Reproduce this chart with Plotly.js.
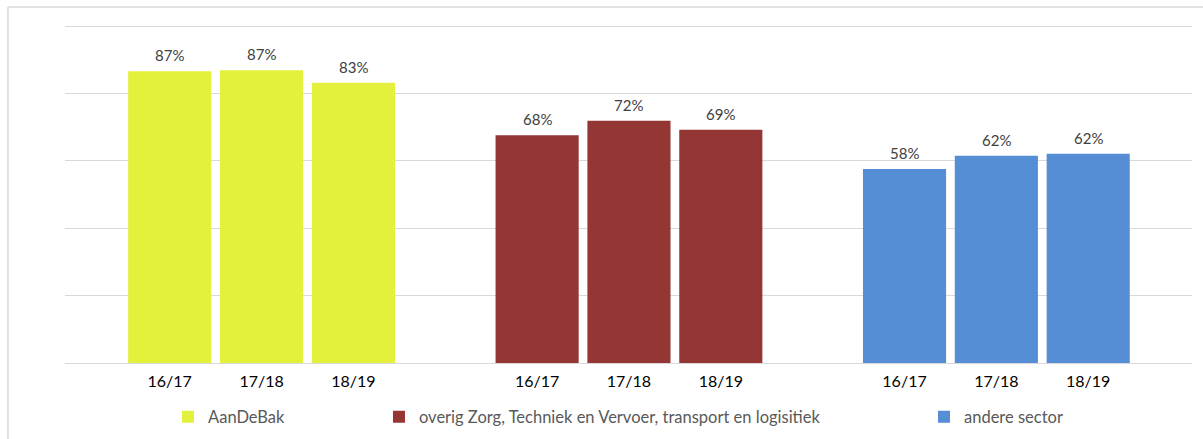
<!DOCTYPE html>
<html>
<head>
<meta charset="utf-8">
<script src="https://cdn.plot.ly/plotly-3.0.1.min.js"></script>
<style>
  html, body { margin: 0; padding: 0; background: #fff; }
  #chart { width: 1203px; height: 439px; }
</style>
</head>
<body>
<div id="chart"></div>
<script>
// ---- data ----
const periods = ["16/17", "17/18", "18/19"];
const seriesNames = [
  "AanDeBak",
  "overig Zorg, Techniek en Vervoer, transport en logisitiek",
  "andere sector"
];
const aanDeBak = [0.866, 0.869, 0.832];
const overigZorg = [0.676, 0.719, 0.692];
const andereSector = [0.576, 0.615, 0.621];
const seriesValues = [aanDeBak, overigZorg, andereSector];
const seriesColors = ["#E3F13C", "#943634", "#558ED5"];

// ---- build ----
const slotsPerGroup = periods.length + 1; // one empty slot between groups
const traces = [];
const annotations = [];
const tickvals = [];
const ticktext = [];
const legendIds = ["legend", "legend2", "legend3"];

seriesValues.forEach((vals, g) => {
  const xs = periods.map((p, i) => g * slotsPerGroup + i);
  xs.forEach((x, i) => { tickvals.push(x); ticktext.push(periods[i]); });
  traces.push({
    type: "bar",
    name: seriesNames[g],
    x: xs,
    y: vals,
    width: 0.905,
    marker: { color: seriesColors[g], line: { width: 0 } },
    legend: legendIds[g],
    hoverinfo: "none"
  });
  vals.forEach((v, i) => {
    annotations.push({
      x: xs[i], y: v, xref: "x", yref: "y",
      text: Math.round(v * 100) + "%",
      showarrow: false, yanchor: "bottom", yshift: 5,
      font: { family: "Lato, sans-serif", size: 15, color: "#404040" }
    });
  });
});

const legendFont = { family: "Lato, sans-serif", size: 16.5, color: "#595959" };
const legendBase = {
  orientation: "h", yanchor: "middle", xanchor: "left", y: -0.16,
  font: legendFont, bgcolor: "rgba(0,0,0,0)", borderwidth: 0, itemwidth: 30
};

const layout = {
  width: 1203, height: 439,
  margin: { l: 65, r: 11, t: 25, b: 76, pad: 0, autoexpand: false },
  paper_bgcolor: "#ffffff", plot_bgcolor: "#ffffff",
  barmode: "overlay",
  showlegend: true,
  xaxis: {
    type: "linear", range: [-1.14, 11.13],
    tickvals: tickvals, ticktext: ticktext,
    showgrid: false, zeroline: false, ticks: "",
    showline: true, linecolor: "#d9d9d9", linewidth: 1,
    ticklabelstandoff: 4,
    tickfont: { family: "Lato, sans-serif", size: 16, color: "#000000" },
    fixedrange: true
  },
  yaxis: {
    range: [0, 1.003], tickvals: [0.2, 0.4, 0.6, 0.8, 1.0], showticklabels: false,
    showgrid: true, gridcolor: "#d9d9d9", gridwidth: 1,
    zeroline: false, ticks: "", fixedrange: true
  },
  legend: Object.assign({}, legendBase, { x: 0.0914 }),
  legend2: Object.assign({}, legendBase, { x: 0.2786 }),
  legend3: Object.assign({}, legendBase, { x: 0.7622 }),
  annotations: annotations,
  shapes: [
    { type: "line", xref: "paper", yref: "paper", x0: -0.0506, x1: -0.0506, y0: -0.23, y1: 1.0533,
      line: { color: "#d9d9d9", width: 1.5 } },
    { type: "line", xref: "paper", yref: "paper", x0: -0.0506, x1: 1.02, y0: 1.0533, y1: 1.0533,
      line: { color: "#d9d9d9", width: 1.5 } }
  ]
};

Plotly.newPlot("chart", traces, layout, { displayModeBar: false, staticPlot: true });
</script>
</body>
</html>
